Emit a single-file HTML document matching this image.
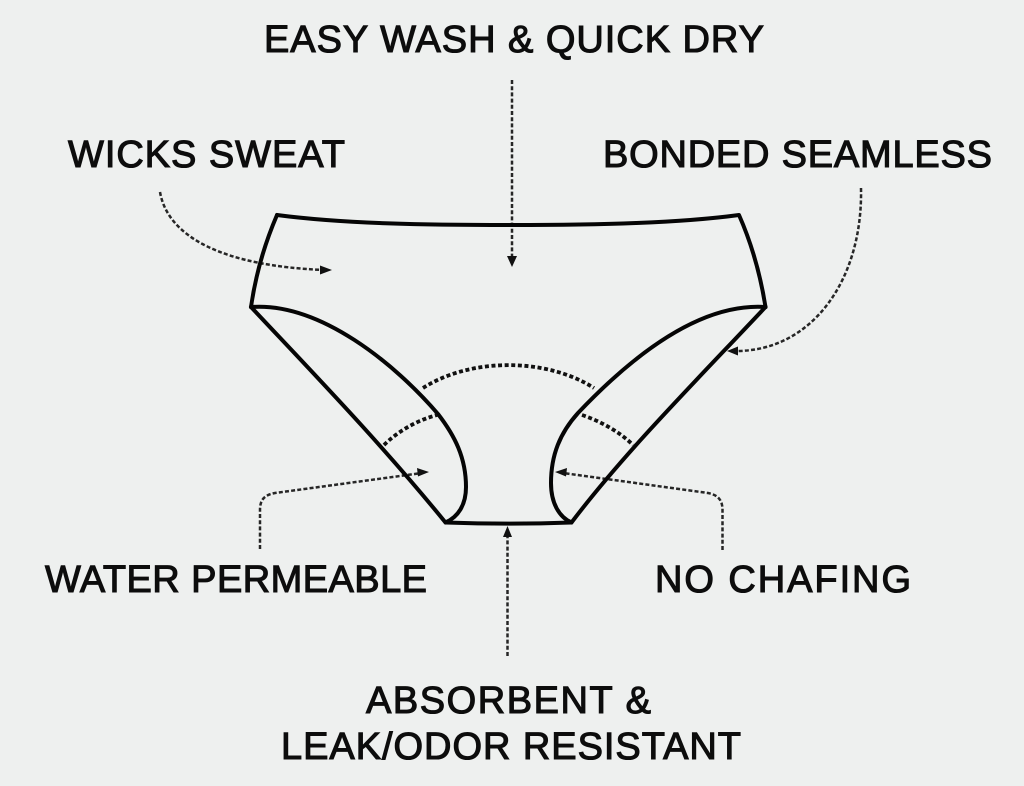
<!DOCTYPE html>
<html>
<head>
<meta charset="utf-8">
<style>
html,body{margin:0;padding:0;background:#eef0ef;}
svg{display:block;}
text{font-family:"Liberation Sans",sans-serif;font-size:38px;fill:#0d0d0d;stroke:#0d0d0d;stroke-width:1.1px;}
</style>
</head>
<body>
<svg width="1024" height="786" viewBox="0 0 1024 786" xmlns="http://www.w3.org/2000/svg">
<rect width="1024" height="786" fill="#eef0ef"/>
<g fill="none" stroke="#262626" stroke-width="2.5" stroke-dasharray="4 2.2">
<path d="M512 80 L512 260"/>
<path d="M160 192 C168 238 225 266 324 270"/>
<path d="M861 188 C863 280 812 351 736 351"/>
<path d="M260 549 L260 510 C260 500 264 495 275 493 L422 473"/>
<path d="M722.500 550 L722.500 510 C722.500 500 718 495 708 493 L563 473"/>
<path d="M507.500 656 L507.500 535"/>
</g>
<g fill="none" stroke="#050505" stroke-width="4" stroke-linejoin="round" stroke-linecap="round">
<path d="M277 215 C345 224 430 225 512 225 C600 225 680 223 739 215 C750 240 760 272 765.500 307"/>
<path d="M277 215 C265 243 256 272 251 307"/>
<path d="M251 307 C312 372 380 442 445.500 522.500 C490 524 530 524 571.500 522.500 C625 452 695 382 765.500 307"/>
<path d="M251 307 C320 302 395 364 438 414 C455 436 466 458 466 487 C466 505 458 517 445.500 522.500"/>
<path d="M765.500 307 C690 302 615 374 578 413 C560 433 551 455 551 483 C551 503 559 517 571.500 522.500"/>
</g>
<g fill="none" stroke="#111" stroke-width="3.8" stroke-dasharray="4 2.6">
<path d="M423 388 C470 358 545 357 594 388"/>
<path d="M384 445 C398 431 418 420 437 415"/>
<path d="M582 415 C600 421 620 432 633 445"/>
</g>
<g fill="#111">
<path d="M512 267 L507 256 L517 256 Z"/>
<path d="M332 270 L320 265.500 L320 274.500 Z"/>
<path d="M727 351 L738 346.500 L738 355.500 Z"/>
<path d="M429 472 L417 468 L418 476.500 Z"/>
<path d="M555 472 L567 468 L566 476.500 Z"/>
<path d="M507.500 526 L503 537 L512 537 Z"/>
</g>
<text x="264" y="52" textLength="500" lengthAdjust="spacing">EASY WASH &amp; QUICK DRY</text>
<text x="68" y="167" textLength="277" lengthAdjust="spacing">WICKS SWEAT</text>
<text x="603" y="167" textLength="389" lengthAdjust="spacing">BONDED SEAMLESS</text>
<text x="45" y="592" textLength="382" lengthAdjust="spacing">WATER PERMEABLE</text>
<text x="655" y="592" textLength="256" lengthAdjust="spacing">NO CHAFING</text>
<text x="366" y="713" textLength="285" lengthAdjust="spacing">ABSORBENT &amp;</text>
<text x="281" y="759" textLength="460" lengthAdjust="spacing">LEAK/ODOR RESISTANT</text>
</svg>
</body>
</html>
